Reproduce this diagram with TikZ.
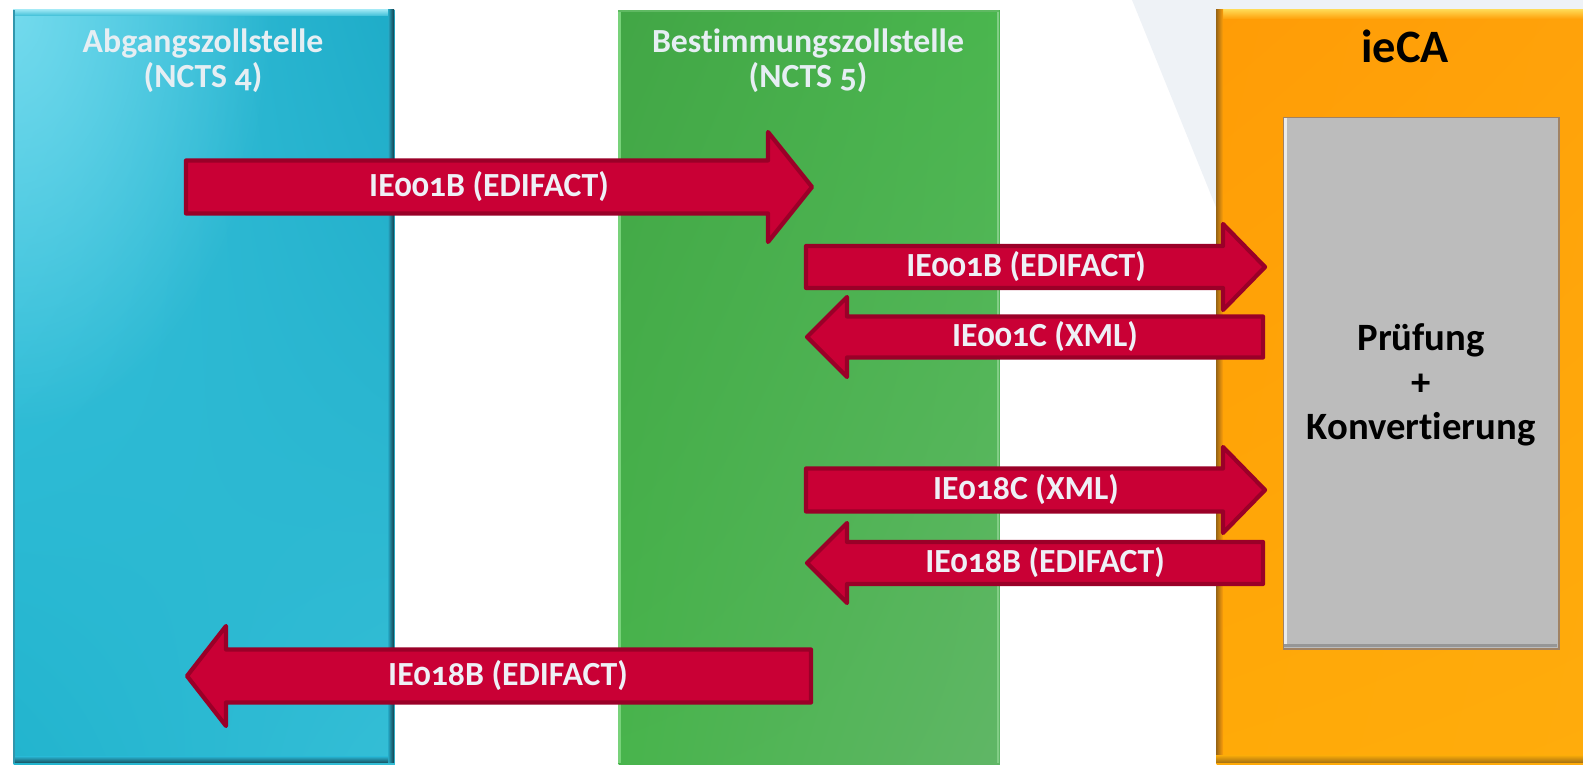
\documentclass[tikz,border=0pt]{standalone}
\usepackage{fontspec}
\setmainfont{Carlito}[Numbers=OldStyle, Ligatures=NoCommon]
\usetikzlibrary{shadings, fadings}
\definecolor{arrfill}{HTML}{C90035}
\definecolor{arrline}{HTML}{9A0028}
\definecolor{arrtext}{HTML}{EEF0F6}
\definecolor{hdrtext}{HTML}{E6EEF3}
\definecolor{bgtri}{HTML}{EEF2F6}
\definecolor{greybox}{HTML}{BCBCBC}
\definecolor{greyline}{RGB}{160,130,100}
\definecolor{greyhi}{RGB}{235,235,235}
\definecolor{greylo}{RGB}{150,150,150}
\definecolor{bUL}{RGB}{60,196,222}
\definecolor{bUR}{RGB}{30,172,200}
\definecolor{bLL}{RGB}{34,180,206}
\definecolor{bLR}{RGB}{52,190,214}
\definecolor{bGlow}{RGB}{125,222,240}
\definecolor{bTopA}{RGB}{150,228,242}
\definecolor{bTopB}{RGB}{60,190,215}
\definecolor{bMid}{RGB}{38,170,198}
\definecolor{bDark}{RGB}{20,62,74}
\definecolor{bDarkB}{RGB}{24,80,94}
\definecolor{bEdgeL}{RGB}{50,150,172}
\definecolor{gUL}{RGB}{66,166,70}
\definecolor{gUR}{RGB}{74,182,78}
\definecolor{gLL}{RGB}{72,180,76}
\definecolor{gLR}{RGB}{96,182,102}
\definecolor{gEdgeL}{RGB}{120,210,122}
\definecolor{gEdgeR}{RGB}{130,205,134}
\definecolor{gEdgeT}{RGB}{95,185,98}
\definecolor{oUL}{RGB}{255,156,6}
\definecolor{oUR}{RGB}{255,162,10}
\definecolor{oLL}{RGB}{255,170,8}
\definecolor{oLR}{RGB}{255,172,12}
\definecolor{oTop}{RGB}{255,214,80}
\definecolor{oMid}{RGB}{255,160,10}
\definecolor{oMidB}{RGB}{240,165,10}
\definecolor{oDarkL}{RGB}{150,100,20}
\definecolor{oDarkB}{RGB}{160,110,20}
\tikzfading[name=cornerglow, inner color=transparent!15, outer color=transparent!100]
\tikzset{
  msgarrow/.style={fill=arrfill, draw=arrline, line width=1.2pt, line join=round},
  msglabel/.style={text=arrtext, font=\bfseries\fontsize{9.6}{11}\selectfont, inner sep=0pt},
  hdrlabel/.style={text=hdrtext, font=\bfseries\fontsize{9.6}{10}\selectfont, inner sep=0pt, align=center},
  colbox/.style={inner sep=0pt, anchor=north west, minimum height=7.53cm},
}
% name, tail x, head-base x, tip x, centre y, body half, head half, label x, label
\newcommand\MsgArrow[9]{%
  \draw[msgarrow] (#2,#5-#6) -- (#3,#5-#6) -- (#3,#5-#7) -- (#4,#5) -- (#3,#5+#7) -- (#3,#5+#6) -- (#2,#5+#6) -- cycle;
  \node[msglabel] (#1) at (#8,#5) {#9};
}
\begin{document}
\begin{tikzpicture}[x=0.01cm, y=-0.01cm]
\useasboundingbox (0,0) rectangle (1583,765);
% light background wedge
\fill[bgtri] (1132,0) -- (1583,0) -- (1583,765) -- (1442,765) -- cycle;

% Abgangszollstelle column
\node[colbox, minimum width=3.81cm, upper left=bUL, upper right=bUR, lower left=bLL, lower right=bLR] (abgang) at (13,10) {};
\begin{scope}
  \clip (13,10) rectangle (394,763);
  \fill[bGlow, path fading=cornerglow] (13,10) ellipse [x radius=260, y radius=420];
\end{scope}
\shade[top color=bTopA, bottom color=bTopB] (13,10) rectangle (394,16);
\fill[bEdgeL] (13,10) rectangle (15,763);
\shade[left color=bMid, right color=bDark] (388,10) rectangle (394,763);
\shade[top color=bMid, bottom color=bDarkB] (15,757) rectangle (388,763);
\node[hdrlabel] (abganghdr) at (203,61) {Abgangszollstelle\\(NCTS 4)};

% Bestimmungszollstelle column
\node[colbox, minimum width=3.81cm, upper left=gUL, upper right=gUR, lower left=gLL, lower right=gLR] (bestimmung) at (618,10) {};
\fill[gEdgeL] (618,10) rectangle (621,763);
\fill[gEdgeR] (997,10) rectangle (999,763);
\fill[gEdgeT] (618,10) rectangle (999,12);
\node[hdrlabel] (bestimmunghdr) at (808,61) {Bestimmungszollstelle\\(NCTS 5)};

% ieCA column
\node[colbox, minimum width=3.70cm, upper left=oUL, upper right=oUR, lower left=oLL, lower right=oLR] (ieca) at (1216,10) {};
\shade[top color=oTop, bottom color=oMid] (1216,10) rectangle (1583,19);
\shade[left color=oDarkL, right color=oMid] (1216,10) rectangle (1223,763);
\shade[top color=oMidB, bottom color=oDarkB] (1216,756) rectangle (1583,763);
\node[inner sep=0pt, anchor=base, font=\bfseries\fontsize{13.2}{15}\selectfont] (iecahdr) at (1405,63) {ieCA};

% Pruefung box
\node[inner sep=0pt, anchor=north west, minimum width=2.75cm, minimum height=5.31cm, fill=greybox,
      draw=greyline, line width=0.4pt] (pruefung) at (1283,117) {};
\fill[greyhi] (1284,118) rectangle (1287,647);
\fill[greylo] (1284,644) rectangle (1557,647);
\node[inner sep=0pt, align=center, font=\bfseries\fontsize{11}{12.6}\selectfont] (pruefungtxt) at (1421,385) {Prüfung\\+\\Konvertierung};

% message arrows
\MsgArrow{m1}{186}{768}{812}{187}{26.5}{55}{489}{IE001B (EDIFACT)}
\MsgArrow{m2}{806}{1223}{1265}{267}{21}{43}{1026}{IE001B (EDIFACT)}
\MsgArrow{m3}{1263}{847}{807}{337}{20.5}{40}{1045}{IE001C (XML)}
\MsgArrow{m4}{806}{1223}{1265}{490}{21.5}{43}{1026}{IE018C (XML)}
\MsgArrow{m5}{1263}{847}{807}{563}{21}{40}{1045}{IE018B (EDIFACT)}
\MsgArrow{m6}{811}{226}{187}{676}{26.5}{50}{508}{IE018B (EDIFACT)}
\end{tikzpicture}
\end{document}
